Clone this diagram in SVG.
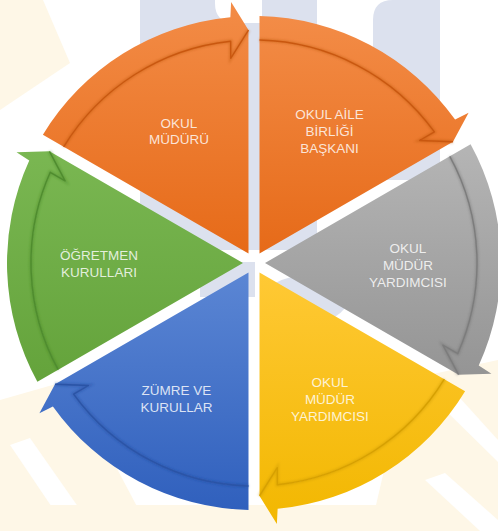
<svg xmlns="http://www.w3.org/2000/svg" width="498" height="531" viewBox="0 0 498 531">
<style>
.lbl{font-family:"Liberation Sans",Arial,sans-serif;font-size:13.5px;fill:#FFFFFF;fill-opacity:0.82;text-anchor:middle}
.line{fill:none;stroke-width:1.4;stroke-linejoin:round}
.shade{fill:none;stroke-width:3.5;stroke-opacity:0.35;filter:url(#blur)}
.cream{fill:#FEF7E7}
.bg2{fill:#DCE1EE}
</style>
<defs>
<path id="body" d="M259.5,253.47 L259.5,40.07 A223,223 0 0 1 434.4,131.9 L419.6,140.5 L453,141.7 Z"/>
<path id="band" d="M259.5,16.06 A247,247 0 0 1 455.1,119.6 L468.6,112.7 L453,141.7 L419.6,140.5 L434.4,131.9 A223,223 0 0 0 259.5,40.07 Z"/>
<path id="bandline" d="M259.5,40.07 A223,223 0 0 1 434.4,131.9 L419.6,140.5 L453,141.7"/>
<filter id="blur" x="-20%" y="-20%" width="140%" height="140%"><feGaussianBlur stdDeviation="1.3"/></filter>
<linearGradient id="g0" gradientUnits="userSpaceOnUse" x1="0" y1="16" x2="0" y2="255"><stop offset="0" stop-color="#F38C47"/><stop offset="1" stop-color="#E66A18"/></linearGradient>
<linearGradient id="g1" gradientUnits="userSpaceOnUse" x1="0" y1="144" x2="0" y2="380" gradientTransform="rotate(-60 254 263)"><stop offset="0" stop-color="#B5B5B5"/><stop offset="1" stop-color="#949494"/></linearGradient>
<linearGradient id="g2" gradientUnits="userSpaceOnUse" x1="0" y1="272" x2="0" y2="525" gradientTransform="rotate(-120 254 263)"><stop offset="0" stop-color="#FFC935"/><stop offset="1" stop-color="#F2B700"/></linearGradient>
<linearGradient id="g3" gradientUnits="userSpaceOnUse" x1="0" y1="272" x2="0" y2="510" gradientTransform="rotate(-180 254 263)"><stop offset="0" stop-color="#5B86D4"/><stop offset="1" stop-color="#3060BD"/></linearGradient>
<linearGradient id="g4" gradientUnits="userSpaceOnUse" x1="0" y1="150" x2="0" y2="382" gradientTransform="rotate(-240 254 263)"><stop offset="0" stop-color="#7AB752"/><stop offset="1" stop-color="#64A33B"/></linearGradient>
<linearGradient id="g5" gradientUnits="userSpaceOnUse" x1="0" y1="2" x2="0" y2="255" gradientTransform="rotate(-300 254 263)"><stop offset="0" stop-color="#F38C47"/><stop offset="1" stop-color="#E66A18"/></linearGradient>
</defs>
<rect width="498" height="531" fill="#FFFFFF"/>
<g id="watermark">
<polygon class="cream" points="0,0 43,0 70,63 0,110"/>
<polygon class="cream" points="0,400 70,380 150,531 0,531"/>
<polygon points="10,445 30,438 95,531 68,531" fill="#FFFFFF"/>
<rect class="cream" x="0" y="505" width="498" height="26"/>
<polygon class="cream" points="405,380 498,360 498,531 370,531"/>
<polygon points="440,405 460,398 498,440 498,462" fill="#FFFFFF"/>
<polygon points="425,480 445,473 498,520 498,531 480,531" fill="#FFFFFF"/>
<path class="bg2" d="M140,0 H317 V250 H140 Z"/>
<path d="M215,0 H262 V23 H235 Q215,23 215,3 Z" fill="#FFFFFF"/>
<path class="bg2" d="M373,20 Q373,0 393,0 H440 V180 H373 Z"/>
<ellipse class="bg2" cx="305" cy="300" rx="42" ry="24"/>
<rect class="bg2" x="200" y="262" width="55" height="35"/>
</g>
<g id="node-okul-aile-birligi-baskani">
<use href="#body" fill="url(#g0)"/>
<text class="lbl" x="329.5" y="118.5">OKUL AİLE</text>
<text class="lbl" x="329.5" y="135.5">BİRLİĞİ</text>
<text class="lbl" x="329.5" y="152.5">BAŞKANI</text>
</g>
<g id="node-okul-mudur-yardimcisi-1">
<use href="#body" fill="url(#g1)" transform="rotate(60 254 263)"/>
<text class="lbl" x="408" y="253">OKUL</text>
<text class="lbl" x="408" y="270">MÜDÜR</text>
<text class="lbl" x="408" y="287">YARDIMCISI</text>
</g>
<g id="node-okul-mudur-yardimcisi-2">
<use href="#body" fill="url(#g2)" transform="rotate(120 254 263)"/>
<text class="lbl" x="330" y="387">OKUL</text>
<text class="lbl" x="330" y="404">MÜDÜR</text>
<text class="lbl" x="330" y="421">YARDIMCISI</text>
</g>
<g id="node-zumre-ve-kurullar">
<use href="#body" fill="url(#g3)" transform="rotate(180 254 263)"/>
<text class="lbl" x="176.5" y="395">ZÜMRE VE</text>
<text class="lbl" x="176.5" y="412">KURULLAR</text>
</g>
<g id="node-ogretmen-kurullari">
<use href="#body" fill="url(#g4)" transform="rotate(240 254 263)"/>
<text class="lbl" x="99" y="260">ÖĞRETMEN</text>
<text class="lbl" x="99" y="277">KURULLARI</text>
</g>
<g id="node-okul-muduru">
<use href="#body" fill="url(#g5)" transform="rotate(300 254 263)"/>
<text class="lbl" x="179" y="127.5">OKUL</text>
<text class="lbl" x="179" y="144">MÜDÜRÜ</text>
</g>
<g id="connectors">
<g transform="rotate(0 254 263)"><use href="#band" fill="url(#g0)"/><use href="#bandline" class="shade" stroke="#B5500C"/><use href="#bandline" class="line" stroke="#C9570F"/></g>
<g transform="rotate(60 254 263)"><use href="#band" fill="url(#g1)"/><use href="#bandline" class="shade" stroke="#666666"/><use href="#bandline" class="line" stroke="#7C7C7C"/></g>
<g transform="rotate(120 254 263)"><use href="#band" fill="url(#g2)"/><use href="#bandline" class="shade" stroke="#C08E00"/><use href="#bandline" class="line" stroke="#D7A000"/></g>
<g transform="rotate(180 254 263)"><use href="#band" fill="url(#g3)"/><use href="#bandline" class="shade" stroke="#1E4696"/><use href="#bandline" class="line" stroke="#2A54A6"/></g>
<g transform="rotate(240 254 263)"><use href="#band" fill="url(#g4)"/><use href="#bandline" class="shade" stroke="#3F7A22"/><use href="#bandline" class="line" stroke="#4F8C2E"/></g>
<g transform="rotate(300 254 263)"><use href="#band" fill="url(#g5)"/><use href="#bandline" class="shade" stroke="#B5500C"/><use href="#bandline" class="line" stroke="#C9570F"/></g>
</g>
</svg>
